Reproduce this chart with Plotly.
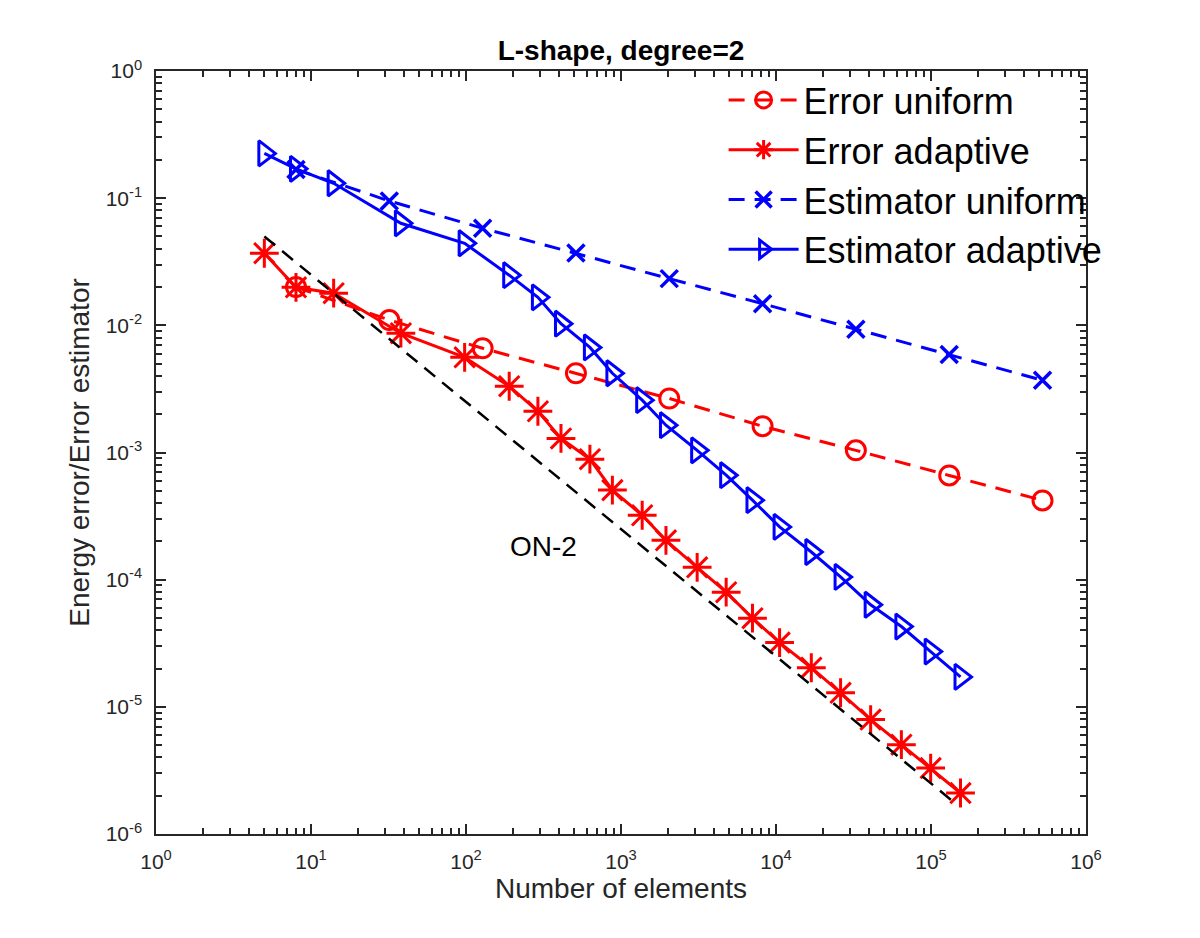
import plotly.graph_objects as go
import math

# ---------------- data ----------------
N_unif = [8, 32, 128, 512, 2048, 8192, 32768, 131072, 524288]
err_unif = [0.020, 0.011, 0.0066, 0.0042, 0.00266, 0.00161, 0.00104, 0.00066, 0.00042]
est_unif = [0.168, 0.095, 0.058, 0.037, 0.0233, 0.0148, 0.0093, 0.0059, 0.0037]

N_adapt = [5, 8, 14, 38, 98, 190, 291, 410, 630, 880, 1370, 1950, 3100, 4770,
           7050, 10550, 16900, 26100, 40800, 64400, 99500, 155000]
err_adapt = [0.0369, 0.0199, 0.0179, 0.00867, 0.0056, 0.00332, 0.00211, 0.00129,
             0.000886, 0.000506, 0.000321, 0.000204, 0.000125, 7.97e-5, 4.98e-5,
             3.2e-5, 2.03e-5, 1.29e-5, 7.94e-6, 5.04e-6, 3.3e-6, 2.1e-6]
est_adapt = [0.225, 0.17, 0.131, 0.0635, 0.0442, 0.0248, 0.0166, 0.0103, 0.0067,
             0.0042, 0.00258, 0.00164, 0.00104, 0.000663, 0.000422, 0.00026,
             0.000165, 0.000105, 6.35e-5, 4.28e-5, 2.72e-5, 1.72e-5]

ref_N = [5, 135000]
ref_val = [0.05, 1.85e-6]

rate_label = "ON-2"
rate_label_N = 315
rate_label_val = 1.81e-4

x_exps = [0, 1, 2, 3, 4, 5, 6]
y_exps = [-6, -5, -4, -3, -2, -1, 0]

# ---------------- figure ----------------
RED = "rgb(255,0,0)"
BLUE = "rgb(0,0,255)"
AX = "#262626"
FONT = "Liberation Sans, Arial, Helvetica, sans-serif"
DASH = "16px,10px"

fig = go.Figure()

fig.add_trace(go.Scatter(
    x=N_unif, y=err_unif, name="Error uniform", mode="lines+markers",
    line=dict(color=RED, width=3, dash=DASH),
    marker=dict(symbol="circle-open", size=19, color=RED, line=dict(width=3, color=RED)),
))
fig.add_trace(go.Scatter(
    x=N_adapt, y=err_adapt, name="Error adaptive", mode="lines+markers",
    line=dict(color=RED, width=3),
    marker=dict(symbol="asterisk-open", size=24, color=RED, line=dict(width=3, color=RED)),
))
fig.add_trace(go.Scatter(
    x=N_unif, y=est_unif, name="Estimator uniform", mode="lines+markers",
    line=dict(color=BLUE, width=3, dash=DASH),
    marker=dict(symbol="x-thin-open", size=17, color=BLUE, line=dict(width=3.5, color=BLUE)),
))
fig.add_trace(go.Scatter(
    x=N_adapt, y=est_adapt, name="Estimator adaptive", mode="lines+markers",
    line=dict(color=BLUE, width=3),
    marker=dict(symbol="triangle-right-open", size=22, color=BLUE, line=dict(width=3, color=BLUE)),
))
fig.add_trace(go.Scatter(
    x=ref_N, y=ref_val, mode="lines", showlegend=False,
    line=dict(color="black", width=2.5, dash="14px,9px"),
))

fig.add_annotation(
    x=math.log10(rate_label_N), y=math.log10(rate_label_val), text=rate_label,
    showarrow=False, font=dict(family=FONT, size=28, color="black"),
)

def log_minor(lo, hi):
    vals = []
    for e in range(lo, hi):
        for m in range(2, 10):
            vals.append(m * 10 ** e)
    return vals

axis_common = dict(
    type="log", showgrid=False, zeroline=False,
    showline=True, linecolor=AX, linewidth=1.5, mirror="allticks",
    ticks="inside", ticklen=10, tickwidth=1.5, tickcolor=AX,
    tickfont=dict(family=FONT, size=21, color=AX),
    ticklabelstandoff=8,
)

fig.update_xaxes(
    **axis_common,
    range=[0, 6],
    tickmode="array",
    tickvals=[10 ** e for e in x_exps],
    ticktext=["10<sup>%d</sup>" % e for e in x_exps],
    minor=dict(tickmode="array", tickvals=log_minor(0, 6), ticks="inside",
               ticklen=6, tickwidth=1.5, tickcolor=AX),
    title=dict(text="Number of elements", font=dict(family=FONT, size=28, color=AX), standoff=4),
)
fig.update_yaxes(
    **axis_common,
    range=[-6, 0],
    tickmode="array",
    tickvals=[10.0 ** e for e in y_exps],
    ticktext=["10<sup>%d</sup>" % e for e in y_exps],
    minor=dict(tickmode="array", tickvals=log_minor(-6, 0), ticks="inside",
               ticklen=6, tickwidth=1.5, tickcolor=AX),
    title=dict(text="Energy error/Error estimator", font=dict(family=FONT, size=28, color=AX), standoff=8),
)

fig.update_layout(
    width=1200, height=938,
    margin=dict(l=156, r=114, t=71, b=104, autoexpand=False),
    paper_bgcolor="white", plot_bgcolor="white",
    title=dict(text="<b>L-shape, degree=2</b>", x=0.5175, xanchor="center",
               y=1 - 50 / 938, yanchor="middle",
               font=dict(family=FONT, size=28, color="black")),
    showlegend=True,
    legend=dict(
        xref="container", yref="container",
        x=0.603, y=1 - 70 / 938, xanchor="left", yanchor="top",
        bgcolor="rgba(0,0,0,0)", borderwidth=0,
        font=dict(family=FONT, size=36, color="black"),
        itemwidth=70, tracegroupgap=0,
    ),
)

fig.write_html("out.html")
